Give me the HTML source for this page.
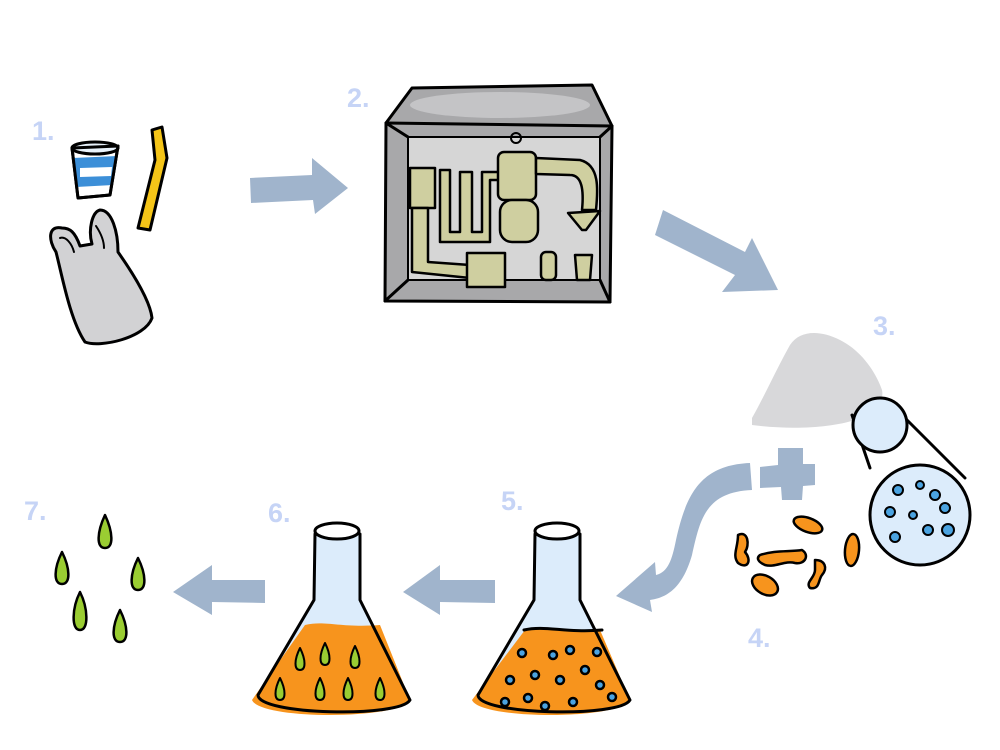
<!DOCTYPE html>
<html><head><meta charset="utf-8"><style>
html,body{margin:0;padding:0;background:#fff;width:1000px;height:750px;overflow:hidden}
svg{display:block}
text{font-family:"Liberation Sans",sans-serif;font-size:27px;font-weight:bold;fill:#c6d4f6}
</style></head><body>
<svg width="1000" height="750" viewBox="0 0 1000 750">
<g stroke="#000" stroke-width="3" stroke-linejoin="round" stroke-linecap="round">
<text x="32" y="140" stroke="none">1.</text>
<text x="347" y="107" stroke="none">2.</text>
<text x="873" y="335" stroke="none">3.</text>
<text x="748" y="647" stroke="none">4.</text>
<text x="501" y="510" stroke="none">5.</text>
<text x="268" y="522" stroke="none">6.</text>
<text x="24" y="520" stroke="none">7.</text>

<g fill="#a0b4cc" stroke="none">
<polygon points="250,178 312,175 312,158 348,188 315,214 313,200 251,203"/>
<polygon points="663,210 745,252 752,238 778,290 722,292 735,275 655,235"/>
<polygon points="495,580 440,580 440,565 403,592 440,615 440,602 495,603"/>
<polygon points="265,580 212,580 212,565 173,592 212,615 212,602 265,603"/>
<path d="M750,463 L752,490 C705,492 700,520 692,555 C682,590 665,598 650,600 L652,612 L616,596 L655,562 L656,575 C668,572 672,560 676,540 C686,495 700,465 750,463 Z"/>
<polygon points="760,467 778,465 778,448 803,448 803,464 815,464 815,485 803,486 802,500 782,500 781,487 760,488"/>
</g>

<path d="M72,148 L118,146 L110,195 L78,198 Z" fill="#fff"/>
<path d="M73,158 L117,156 L113,185 L76,187 Z" fill="#3c8fd8" stroke="none"/>
<path d="M80,168 L112,167 L111,176 L80,177 Z" fill="#fff" stroke="none"/>
<ellipse cx="95" cy="148" rx="23" ry="6" fill="#e8f2fb"/>
<path d="M72,148 L118,146 L110,195 L78,198 Z" fill="none"/>
<path d="M152,130 L162,127 L167,158 L150,230 L138,228 L155,160 Z" fill="#f5c518"/>
<path d="M62,228 C48,225 48,240 56,252 C62,275 70,320 85,342 C100,348 145,338 152,318 C150,300 132,272 118,252 C118,232 112,210 100,210 C92,212 88,230 92,244 L80,246 C75,232 70,228 62,228 Z" fill="#d2d2d4"/>
<path d="M60,238 C66,236 72,244 74,252 M96,226 C100,232 104,240 104,248" fill="none" stroke-width="2"/>

<path d="M386,123 L412,88 L592,85 L612,126 L610,302 L385,301 Z" fill="#a8a8aa"/>
<path d="M386,123 L612,126" fill="none"/>
<ellipse cx="500" cy="105" rx="90" ry="13" fill="#c4c4c6" stroke="none"/>
<rect x="408" y="137" width="192" height="143" fill="#d6d6d6" stroke-width="2"/>
<path d="M386,123 L408,137 M612,126 L600,137 M385,301 L408,280 M610,302 L600,280" fill="none"/>
<g fill="#cfcfa0" stroke-width="2.5">
<rect x="410" y="168" width="25" height="40"/>
<path d="M412,208 L412,272 L470,278 L470,265 L428,262 L428,208 Z"/>
<path d="M440,170 L450,170 L450,232 L460,232 L460,172 L472,172 L472,232 L482,232 L482,172 L500,172 L500,180 L490,180 L490,242 L440,242 Z"/>
<rect x="498" y="152" width="38" height="48" rx="6"/>
<rect x="500" y="200" width="38" height="42" rx="12"/>
<path d="M536,158 L580,160 C600,165 598,190 596,210 L582,210 C584,190 582,175 570,175 L536,174 Z"/>
<rect x="467" y="253" width="38" height="34"/>
<rect x="541" y="252" width="15" height="28" rx="5"/>
<path d="M575,255 L592,255 L590,280 L577,280 Z"/>
<path d="M568,213 L600,211 L586,230 L582,230 Z"/>
</g>
<circle cx="516" cy="138" r="5" fill="none" stroke-width="2"/>

<path d="M752,418 C765,395 775,372 790,345 C800,330 820,330 840,340 C860,350 875,370 882,390 C885,405 870,415 855,420 C830,428 790,430 752,425 Z" fill="#d8d8da" stroke="none"/>
<path d="M852,415 L870,468 M902,415 L965,478" fill="none"/>
<circle cx="880" cy="425" r="27" fill="#dcecfb"/>
<circle cx="920" cy="515" r="50" fill="#dcecfb"/>
<g fill="#4ba3e0" stroke-width="2">
<circle cx="898" cy="490" r="5"/><circle cx="935" cy="495" r="5"/><circle cx="945" cy="508" r="5"/><circle cx="890" cy="512" r="5"/><circle cx="913" cy="515" r="4"/><circle cx="895" cy="537" r="5"/><circle cx="928" cy="530" r="5"/><circle cx="948" cy="530" r="6"/><circle cx="920" cy="485" r="4"/>
</g>

<g fill="#f7941d" stroke-width="2.5">
<ellipse cx="808" cy="525" rx="15" ry="7" transform="rotate(20 808 525)"/>
<path d="M738,535 C748,530 750,545 745,552 C752,560 748,570 738,563 C732,555 738,548 738,535 Z"/>
<path d="M760,555 C775,550 790,552 802,550 C810,555 805,565 795,563 C785,560 775,568 765,565 C758,562 756,558 760,555 Z"/>
<path d="M815,560 C825,560 828,568 822,575 C818,580 820,590 810,588 C805,582 815,578 815,570 Z"/>
<ellipse cx="852" cy="550" rx="7" ry="16" transform="rotate(5 852 550)"/>
<ellipse cx="765" cy="585" rx="14" ry="9" transform="rotate(30 765 585)"/>
</g>

<g>
<path d="M535,534 L534,600 L478,695 C478,715 620,718 630,700 L580,600 L580,534 Z" fill="#dcecfb" stroke="none"/>
<path d="M525,630 C545,625 560,633 600,630 L630,700 C620,720 480,720 472,700 Z" fill="#f7941d" stroke="none"/>
<path d="M535,534 L534,600 L478,695 C478,715 620,718 630,700 L580,600 L580,534" fill="none"/>
<path d="M524,630 C545,625 565,633 602,630" fill="none"/>
<ellipse cx="557" cy="531" rx="22" ry="8" fill="#fff"/>
</g>
<g stroke-width="2.5" fill="#4ba3e0">
<circle cx="522" cy="653" r="4"/><circle cx="553" cy="655" r="4"/><circle cx="570" cy="650" r="4"/><circle cx="597" cy="652" r="4"/><circle cx="510" cy="680" r="4"/><circle cx="535" cy="675" r="4"/><circle cx="560" cy="680" r="4"/><circle cx="585" cy="670" r="4"/><circle cx="600" cy="685" r="4"/><circle cx="505" cy="702" r="4"/><circle cx="528" cy="698" r="4"/><circle cx="545" cy="706" r="4"/><circle cx="573" cy="702" r="4"/><circle cx="612" cy="697" r="4"/>
</g>
<g transform="translate(-220,0)">
<path d="M535,534 L534,600 L478,695 C478,715 620,718 630,700 L580,600 L580,534 Z" fill="#dcecfb" stroke="none"/>
<path d="M525,625 C545,620 560,628 600,625 L630,700 C620,720 480,720 472,700 Z" fill="#f7941d" stroke="none"/>
<path d="M535,534 L534,600 L478,695 C478,715 620,718 630,700 L580,600 L580,534" fill="none"/>
<ellipse cx="557" cy="531" rx="22" ry="8" fill="#fff"/>
</g>
<g fill="#9acd32" stroke-width="2">
<path d="M300,648 C294,660 294,670 300,670 C306,670 306,660 300,648 Z"/>
<path d="M325,643 C319,655 319,665 325,665 C331,665 331,655 325,643 Z"/>
<path d="M355,646 C349,658 349,668 355,668 C361,668 361,658 355,646 Z"/>
<path d="M280,678 C274,690 274,700 280,700 C286,700 286,690 280,678 Z"/>
<path d="M320,678 C314,690 314,700 320,700 C326,700 326,690 320,678 Z"/>
<path d="M348,678 C342,690 342,700 348,700 C354,700 354,690 348,678 Z"/>
<path d="M380,678 C374,690 374,700 380,700 C386,700 386,690 380,678 Z"/>
</g>

<g fill="#9acd32" stroke-width="2.5">
<path d="M105,515 C97,532 96,548 105,548 C114,548 113,532 105,515 Z"/>
<path d="M62,552 C54,568 53,584 62,584 C71,584 70,568 62,552 Z"/>
<path d="M138,558 C130,574 129,590 138,590 C147,590 146,574 138,558 Z"/>
<path d="M80,592 C72,608 71,630 80,630 C89,630 88,608 80,592 Z"/>
<path d="M120,610 C112,626 111,642 120,642 C129,642 128,626 120,610 Z"/>
</g>
</g>
</svg>
</body></html>
